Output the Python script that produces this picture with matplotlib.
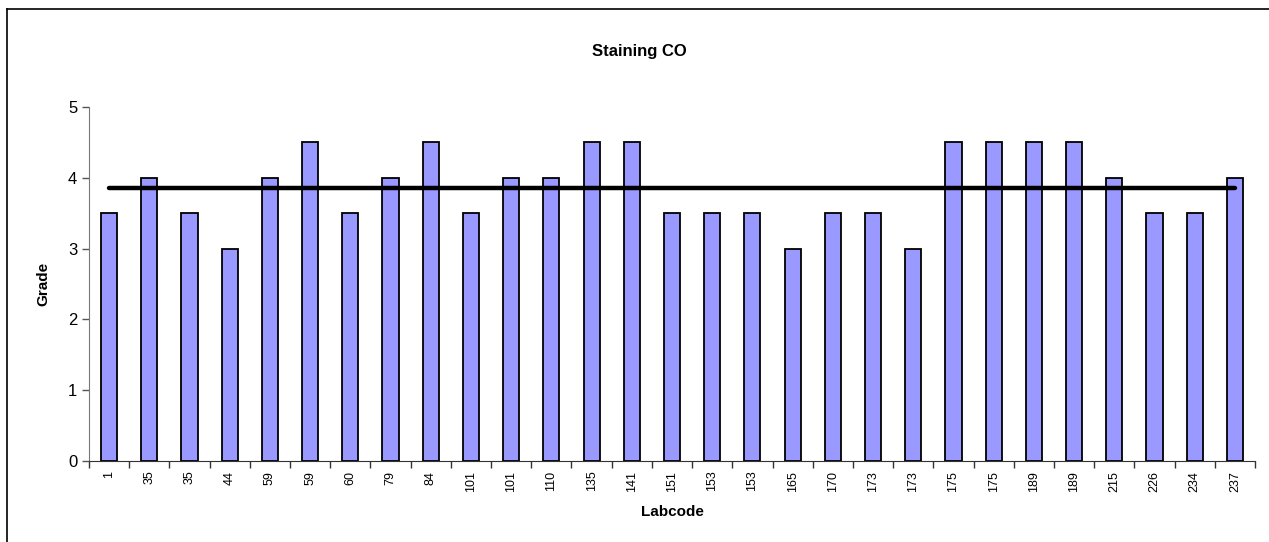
import matplotlib.pyplot as plt
import numpy as np
from matplotlib.lines import Line2D

plt.rcParams['font.family'] = ['Liberation Sans', 'DejaVu Sans']

# data
labcodes = ["1", "35", "35", "44", "59", "59", "60", "79", "84", "101", "101",
            "110", "135", "141", "151", "153", "153", "165", "170", "173", "173",
            "175", "175", "189", "189", "215", "226", "234", "237"]
grades = [3.5, 4, 3.5, 3, 4, 4.5, 3.5, 4, 4.5, 3.5, 4, 4, 4.5, 4.5, 3.5, 3.5,
          3.5, 3, 3.5, 3.5, 3, 4.5, 4.5, 4.5, 4.5, 4, 3.5, 3.5, 4]
mean_grade = 3.86

fig = plt.figure(figsize=(12.69, 5.42), dpi=100)
ax = fig.add_axes([0.0701, 0.1494, 0.9189, 0.6532])

x = np.arange(len(labcodes))
ax.bar(x, grades, width=0.4, color="#9999FF", edgecolor="black", linewidth=1.3, zorder=2)
ax.plot([x[0], x[-1]], [mean_grade, mean_grade], color="black", linewidth=3.2,
        solid_capstyle="round", zorder=3)

ax.set_xlim(-0.5, len(labcodes) - 0.5)
ax.set_ylim(0, 5)
ax.set_yticks([0, 1, 2, 3, 4, 5])
ax.tick_params(axis="y", labelsize=12, length=5, direction="out", width=1, color="#555555")

ax.set_xticks(x)
ax.set_xticklabels(labcodes, rotation=90, fontsize=9)
ax.tick_params(axis="x", which="major", length=0, pad=7)
ax.set_xticks(np.arange(-0.5, len(labcodes)), minor=True)
ax.tick_params(axis="x", which="minor", length=5, width=1, color="#333333")

for s in ["top", "right"]:
    ax.spines[s].set_visible(False)
ax.spines["left"].set_color("#777777")
ax.spines["bottom"].set_color("#333333")

fig.text(0.504, 0.905, "Staining CO", ha="center", va="center", fontsize=12, fontweight="bold")
fig.text(0.034, 0.476, "Grade", ha="center", va="center", rotation=90, fontsize=11, fontweight="bold")
fig.text(0.53, 0.055, "Labcode", ha="center", va="center", fontsize=11, fontweight="bold")

# outer chart frame (top and left edges visible)
fig.add_artist(Line2D([0.0055, 1.0], [0.983, 0.983], color="black", linewidth=1.2))
fig.add_artist(Line2D([0.0055, 0.0055], [0.0, 0.983], color="black", linewidth=1.2))

fig.savefig("out.png", dpi=100)
